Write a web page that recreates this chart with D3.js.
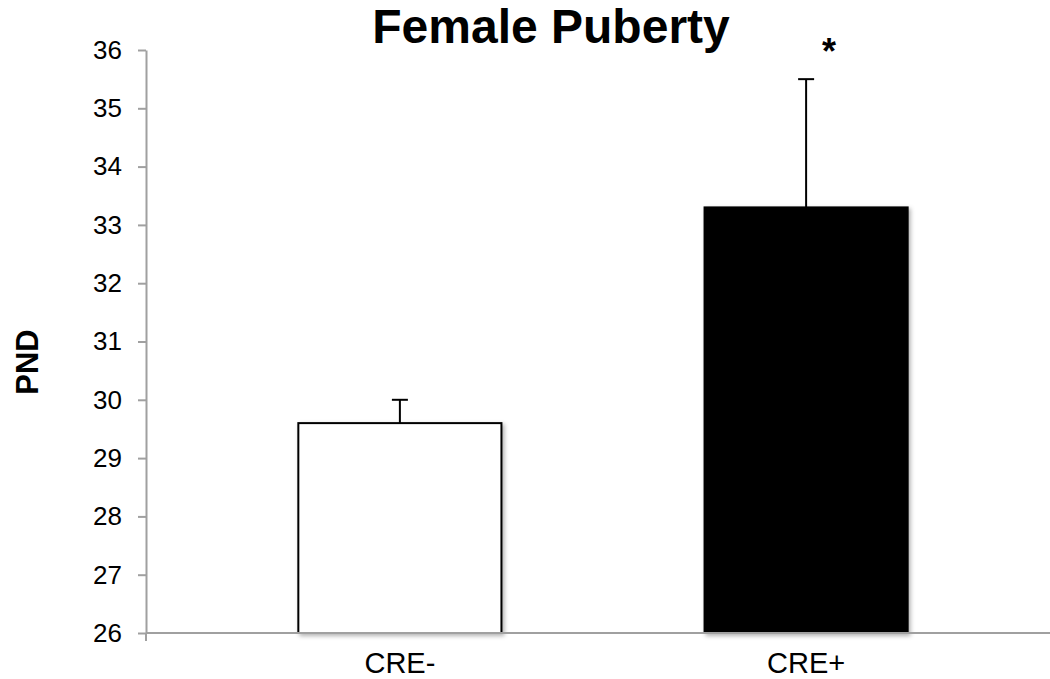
<!DOCTYPE html>
<html>
<head>
<meta charset="utf-8">
<title>Female Puberty</title>
<style>
    body { margin: 0; background: #fff; }
    svg { font-family: Arial, "Liberation Sans", sans-serif; }
</style>
</head>
<body>
<svg width="1050" height="679"></svg>
<script src="https://d3js.org/d3.v7.min.js"></script>
<script>
    // chart data
    var groups = ["CRE-", "CRE+"];
    var means = [29.6, 33.3];
    var errors = [0.4, 2.2];
    var fills = ["#ffffff", "#000000"];
    var marks = ["", "*"];
    var yTicks = [26, 27, 28, 29, 30, 31, 32, 33, 34, 35, 36];

    var svg = d3.select("svg");

    var x = d3.scaleBand()
        .domain(groups)
        .range([146, 1060])
        .paddingInner(0.5)
        .paddingOuter(0.375);

    var y = d3.scaleLinear()
        .domain([26, 36])
        .range([633, 50]);

    // soft shadow like the original
    var defs = svg.append("defs");
    defs.append("filter")
        .attr("id", "shadow")
        .attr("x", "-10%").attr("y", "-10%")
        .attr("width", "130%").attr("height", "130%")
      .append("feDropShadow")
        .attr("dx", 2).attr("dy", 2)
        .attr("stdDeviation", 2)
        .attr("flood-color", "#000")
        .attr("flood-opacity", 0.3);

    // y axis
    var yAxis = svg.append("g")
        .attr("transform", "translate(146,0)")
        .call(d3.axisLeft(y).tickValues(yTicks).tickSizeInner(8).tickSizeOuter(0).tickPadding(16));
    yAxis.selectAll("path, line").attr("stroke", "#a0a0a0").attr("stroke-width", 2);
    yAxis.selectAll("text").attr("font-size", 26).attr("fill", "#000")
        .attr("font-family", "Arial, 'Liberation Sans', sans-serif");

    // bars
    svg.selectAll("rect.bar")
        .data(groups)
        .enter().append("rect")
        .attr("class", "bar")
        .attr("x", function(d) { return x(d); })
        .attr("width", x.bandwidth())
        .attr("y", function(d, i) { return y(means[i]); })
        .attr("height", function(d, i) { return y(26) - y(means[i]); })
        .attr("fill", function(d, i) { return fills[i]; })
        .attr("stroke", "#000")
        .attr("stroke-width", 2)
        .attr("filter", "url(#shadow)");

    // error bars (upper only)
    var err = svg.selectAll("g.err")
        .data(groups)
        .enter().append("g")
        .attr("class", "err")
        .attr("stroke", "#000")
        .attr("stroke-width", 2);
    err.append("line")
        .attr("x1", function(d) { return x(d) + x.bandwidth() / 2; })
        .attr("x2", function(d) { return x(d) + x.bandwidth() / 2; })
        .attr("y1", function(d, i) { return y(means[i]); })
        .attr("y2", function(d, i) { return y(means[i] + errors[i]); });
    err.append("line")
        .attr("x1", function(d) { return x(d) + x.bandwidth() / 2 - 8; })
        .attr("x2", function(d) { return x(d) + x.bandwidth() / 2 + 8; })
        .attr("y1", function(d, i) { return y(means[i] + errors[i]); })
        .attr("y2", function(d, i) { return y(means[i] + errors[i]); });

    // x axis
    var xAxis = svg.append("g")
        .attr("transform", "translate(0,633)")
        .call(d3.axisBottom(x).tickSizeInner(0).tickSizeOuter(0).tickPadding(19));
    xAxis.select(".domain").attr("d", "M146,0H1050").attr("stroke", "#a0a0a0").attr("stroke-width", 2);
    xAxis.selectAll("text").attr("font-size", 29).attr("fill", "#000")
        .attr("font-family", "Arial, 'Liberation Sans', sans-serif");
    xAxis.append("line")
        .attr("x1", 146).attr("x2", 146)
        .attr("y1", 0).attr("y2", 8)
        .attr("stroke", "#a0a0a0").attr("stroke-width", 2);

    // significance mark
    svg.selectAll("text.sig")
        .data(groups)
        .enter().append("text")
        .attr("class", "sig")
        .attr("x", function(d) { return x(d) + x.bandwidth() / 2 + 23; })
        .attr("y", 64)
        .attr("text-anchor", "middle")
        .attr("font-size", 36)
        .attr("font-weight", "bold")
        .text(function(d, i) { return marks[i]; });

    // title
    svg.append("text")
        .attr("x", 551)
        .attr("y", 43)
        .attr("text-anchor", "middle")
        .attr("font-size", 48)
        .attr("font-weight", "bold")
        .text("Female Puberty");

    // y label
    svg.append("text")
        .attr("transform", "translate(38,362) rotate(-90)")
        .attr("text-anchor", "middle")
        .attr("font-size", 31)
        .attr("font-weight", "bold")
        .text("PND");
</script>
</body>
</html>
